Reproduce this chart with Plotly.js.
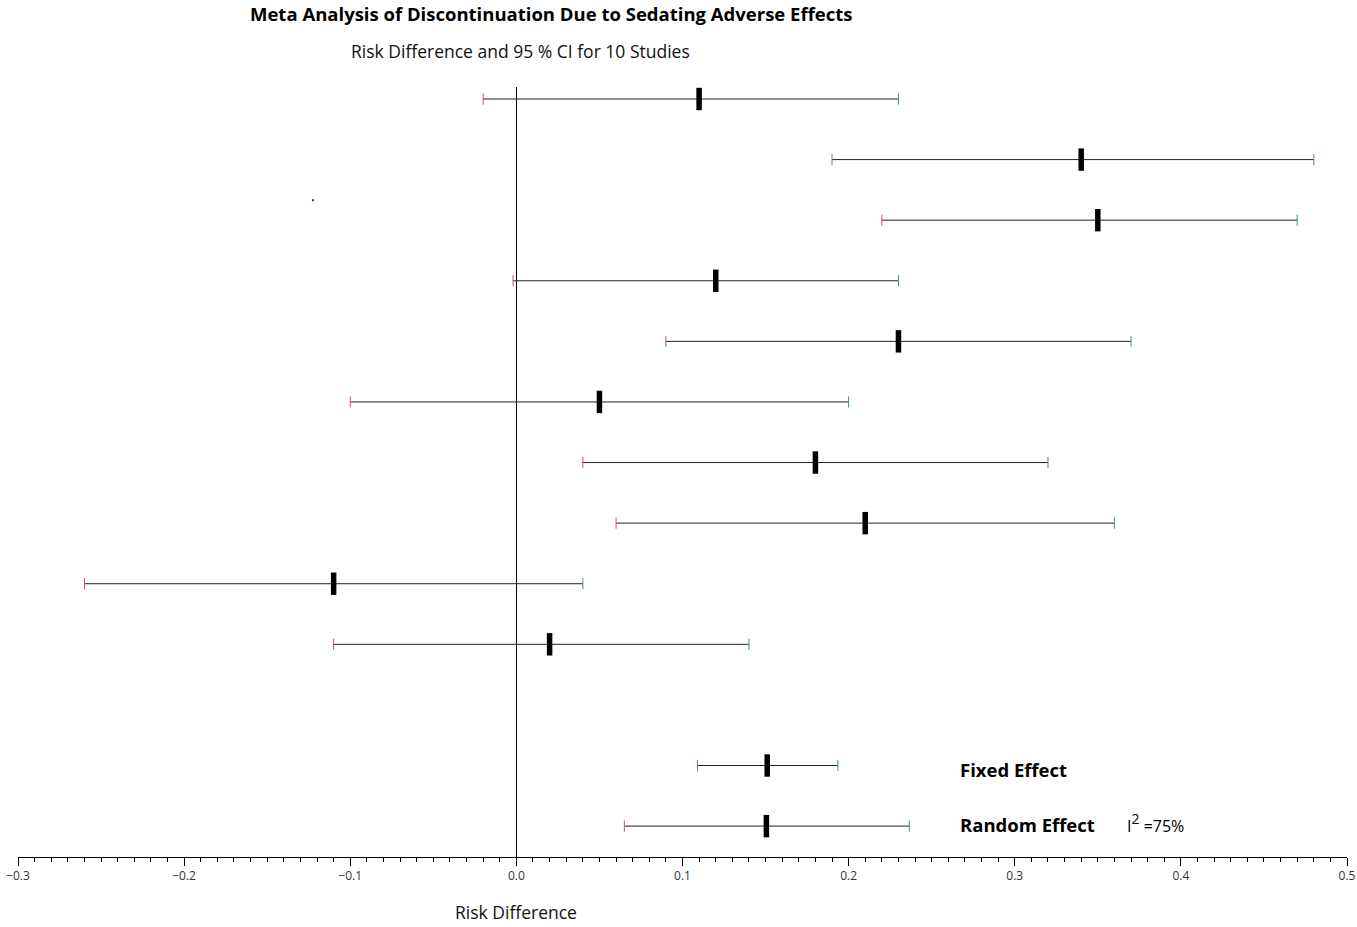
<!DOCTYPE html>
<html><head><meta charset="utf-8">
<script src="https://cdn.plot.ly/plotly-3.0.1.min.js"></script>
<style>body{margin:0;background:#fff}#chart{width:1357px;height:927px}</style>
</head><body><div id="chart"></div>
<script>
// Study rows (1..10), then pooled estimates on rows 12 and 13
const rows = [1,2,3,4,5,6,7,8,9,10,12,13];
const estimate = [0.11,0.34,0.35,0.12,0.23,0.05,0.18,0.21,-0.11,0.02,0.151,0.1505];
const lower    = [-0.02,0.19,0.22,-0.002,0.09,-0.10,0.04,0.06,-0.26,-0.11,0.109,0.065];
const upper    = [0.23,0.48,0.47,0.23,0.37,0.20,0.32,0.36,0.04,0.14,0.1935,0.2365];
const pooledLabels = ["Fixed Effect","Random Effect"];
const pooledRows = [12,13];
const strayX = [-0.1225], strayY = [2.67];

const lx=[], ly=[];
rows.forEach((r,i)=>{lx.push(lower[i],upper[i],null);ly.push(r,r,null);});

const traces = [
  {x:lx,y:ly,mode:'lines',line:{color:'#222',width:1},hoverinfo:'skip',showlegend:false},
  {x:lower,y:rows,mode:'markers',marker:{symbol:'line-ns-open',size:8,color:'#c8506e',line:{color:'#c8506e',width:1}},showlegend:false},
  {x:upper,y:rows,mode:'markers',marker:{symbol:'line-ns-open',size:8,color:'#3f8f8f',line:{color:'#3f8f8f',width:1}},showlegend:false},
  {x:estimate,y:rows,mode:'markers',marker:{symbol:'line-ns-open',size:16,color:'#000',line:{color:'#000',width:5.5}},showlegend:false},
  {x:strayX,y:strayY,mode:'markers',marker:{symbol:'square',size:2,color:'#333'},showlegend:false}
];

const fontFam = '"Open Sans", sans-serif';
const annotations = [
  {text:'<b>Meta Analysis of Discontinuation Due to Sedating Adverse Effects</b>',xref:'paper',yref:'paper',x:(551-18)/1329,y:(857-14)/770,xanchor:'center',yanchor:'middle',showarrow:false,font:{family:fontFam,size:18.5,color:'#000'}},
  {text:'Risk Difference and 95 % CI for 10 Studies',xref:'paper',yref:'paper',x:(520-18)/1329,y:(857-51)/770,xanchor:'center',yanchor:'middle',showarrow:false,font:{family:fontFam,size:17.5,color:'#111'}},
  {text:'Risk Difference',xref:'x',yref:'paper',x:0,y:(857-912)/770,xanchor:'center',yanchor:'middle',showarrow:false,font:{family:fontFam,size:17.5,color:'#111'}},
  {text:'<b>'+pooledLabels[0]+'</b>',xref:'paper',yref:'y',x:(958-18)/1329,y:pooledRows[0]+0.07,xanchor:'left',yanchor:'middle',showarrow:false,font:{family:fontFam,size:18.5,color:'#000'}},
  {text:'<b>'+pooledLabels[1]+'</b>',xref:'paper',yref:'y',x:(958-18)/1329,y:pooledRows[1]-0.03,xanchor:'left',yanchor:'middle',showarrow:false,font:{family:fontFam,size:18.5,color:'#000'}},
  {text:'I<span style="font-size:20px"><sup>2</sup></span> =75%',xref:'paper',yref:'y',x:(1125-18)/1329,y:pooledRows[1]-0.05,xanchor:'left',yanchor:'middle',showarrow:false,font:{family:fontFam,size:16,color:'#000'}}
];

const layout = {
  width:1357,height:927,
  margin:{l:18,r:10,t:87,b:70},
  paper_bgcolor:'#fff',plot_bgcolor:'#fff',
  showlegend:false,
  xaxis:{range:[-0.3,0.5],dtick:0.1,tick0:0,tickformat:'.1f',ticks:'outside',ticklen:8,tickwidth:1,tickcolor:'#000',
    minor:{dtick:0.01,ticks:'outside',ticklen:4,tickcolor:'#000',tickwidth:1},
    showline:true,linecolor:'#000',linewidth:1,showgrid:false,
    zeroline:true,zerolinecolor:'#000',zerolinewidth:1,
    tickfont:{family:fontFam,size:12,color:'#333'},fixedrange:true},
  yaxis:{range:[13.51,0.802],visible:false,showgrid:false,zeroline:false,fixedrange:true},
  annotations:annotations
};
Plotly.newPlot('chart',traces,layout,{displayModeBar:false,staticPlot:true});
</script></body></html>
